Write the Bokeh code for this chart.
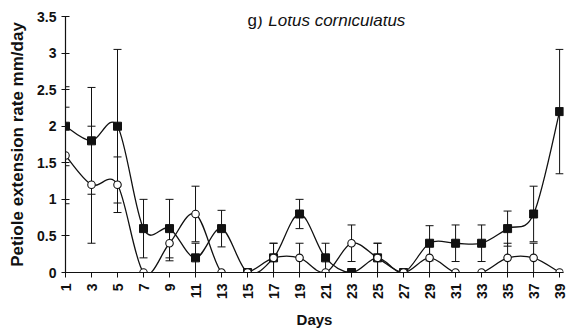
import math
from bokeh.plotting import figure
from bokeh.models import ColumnDataSource, Whisker, TeeHead, FixedTicker, Range1d
from bokeh.core.properties import value
from bokeh.embed import file_html
from bokeh.resources import INLINE

# ---- data ----
days = [1, 3, 5, 7, 9, 11, 13, 15, 17, 19, 21, 23, 25, 27, 29, 31, 33, 35, 37, 39]
filled_vals = [2.0, 1.8, 2.0, 0.6, 0.6, 0.2, 0.6, 0.0, 0.2, 0.8, 0.2, 0.0, 0.2, 0.0, 0.4, 0.4, 0.4, 0.6, 0.8, 2.2]
filled_err = [0.54, 0.73, 1.05, 0.4, 0.4, 0.2, 0.25, 0.0, 0.2, 0.2, 0.2, 0.0, 0.2, 0.0, 0.24, 0.25, 0.25, 0.24, 0.38, 0.85]
open_vals = [1.6, 1.2, 1.2, 0.0, 0.4, 0.8, 0.0, 0.0, 0.2, 0.2, 0.0, 0.4, 0.2, 0.0, 0.2, 0.0, 0.0, 0.2, 0.2, 0.0]
open_err = [0.66, 0.8, 0.38, 0.0, 0.24, 0.38, 0.0, 0.0, 0.2, 0.2, 0.0, 0.25, 0.2, 0.0, 0.2, 0.0, 0.0, 0.2, 0.2, 0.0]
y_ticks = [0, 0.5, 1, 1.5, 2, 2.5, 3, 3.5]
y_tick_labels = ["0", "0.5", "1", "1.5", "2", "2.5", "3", "3.5"]
title_prefix = "g) "
title_species = "Lotus corniculatus"
x_label = "Days"
y_label = "Petiole extension rate mm/day"

FONT = "Liberation Sans"


def smooth_source(xs, ys):
    """Bezier segments (Excel-like smoothing) through the data points."""
    n = len(xs)
    d = dict(x0=[], y0=[], x1=[], y1=[], cx0=[], cy0=[], cx1=[], cy1=[])
    for i in range(n - 1):
        a = max(i - 1, 0)
        b = min(i + 2, n - 1)
        d["x0"].append(xs[i]); d["y0"].append(ys[i])
        d["x1"].append(xs[i + 1]); d["y1"].append(ys[i + 1])
        d["cx0"].append(xs[i] + (xs[i + 1] - xs[a]) / 6.0)
        d["cy0"].append(ys[i] + (ys[i + 1] - ys[a]) / 6.0)
        d["cx1"].append(xs[i + 1] - (xs[b] - xs[i]) / 6.0)
        d["cy1"].append(ys[i + 1] - (ys[b] - ys[i]) / 6.0)
    return ColumnDataSource(d)


def err_source(xs, ys, es):
    keep = [(x, y, e) for x, y, e in zip(xs, ys, es) if e > 0]
    return ColumnDataSource(dict(
        x=[k[0] for k in keep],
        upper=[k[1] + k[2] for k in keep],
        lower=[k[1] - k[2] for k in keep],
    ))


p = figure(width=568, height=331, output_backend="svg", toolbar_location=None,
           x_range=Range1d(1, 39.3), y_range=Range1d(0, 3.5),
           min_border_left=65, min_border_right=5, min_border_top=16, min_border_bottom=59)
p.outline_line_color = None
p.xgrid.visible = False
p.ygrid.visible = False
p.background_fill_color = "white"
p.border_fill_color = "white"

# error bars
for ys, es in ((filled_vals, filled_err), (open_vals, open_err)):
    src = err_source(days, ys, es)
    w = Whisker(base="x", upper="upper", lower="lower", source=src, dimension="height",
                line_color="#111111", line_width=1,
                upper_head=TeeHead(size=8, line_color="#111111", line_width=1),
                lower_head=TeeHead(size=8, line_color="#111111", line_width=1))
    p.add_layout(w)

# smoothed lines
for ys in (filled_vals, open_vals):
    p.bezier(x0="x0", y0="y0", x1="x1", y1="y1", cx0="cx0", cy0="cy0", cx1="cx1", cy1="cy1",
             source=smooth_source(days, ys), line_color="#111111", line_width=1.3)

# markers
p.scatter(days, filled_vals, marker="square", size=8, fill_color="#111111", line_color="#111111")
p.scatter(days, open_vals, marker="circle", size=7.5, fill_color="white", line_color="#111111", line_width=1.1)

# title as text
p.text(x=[15.0], y=[3.44], text=[title_prefix], text_font=value(FONT), text_font_size="17px",
       text_baseline="middle", text_align="left", text_color="#111111")
p.text(x=[16.6], y=[3.44], text=[title_species], text_font=value(FONT), text_font_size="17px",
       text_font_style="italic", text_baseline="middle", text_align="left", text_color="#111111")

# axes
p.xaxis.ticker = FixedTicker(ticks=days)
p.xaxis.major_label_orientation = math.pi / 2
p.xaxis.axis_label = x_label
p.yaxis.ticker = FixedTicker(ticks=y_ticks)
p.yaxis.major_label_overrides = {t: l for t, l in zip(y_ticks, y_tick_labels)}
p.yaxis.axis_label = y_label

for ax in (p.xaxis, p.yaxis):
    ax.axis_line_color = "#111111"
    ax.axis_line_width = 1.2
    ax.major_tick_line_color = "#111111"
    ax.minor_tick_line_color = None
    ax.major_label_text_font = FONT
    ax.major_label_text_font_style = "bold"
    ax.major_label_text_font_size = "14px"
    ax.major_label_text_color = "#111111"
    ax.axis_label_text_font = FONT
    ax.axis_label_text_font_style = "bold"
    ax.axis_label_text_color = "#111111"

p.xaxis.axis_label_text_font_size = "15px"
p.yaxis.axis_label_text_font_size = "17px"
p.xaxis.major_tick_in = 0
p.xaxis.major_tick_out = 5
p.xaxis.major_label_standoff = 6
p.xaxis.axis_label_standoff = 9
p.yaxis.major_tick_in = 4
p.yaxis.major_tick_out = 4
p.yaxis.major_label_standoff = 5
p.yaxis.axis_label_standoff = 7

open("out.html", "w").write(file_html(p, INLINE))
